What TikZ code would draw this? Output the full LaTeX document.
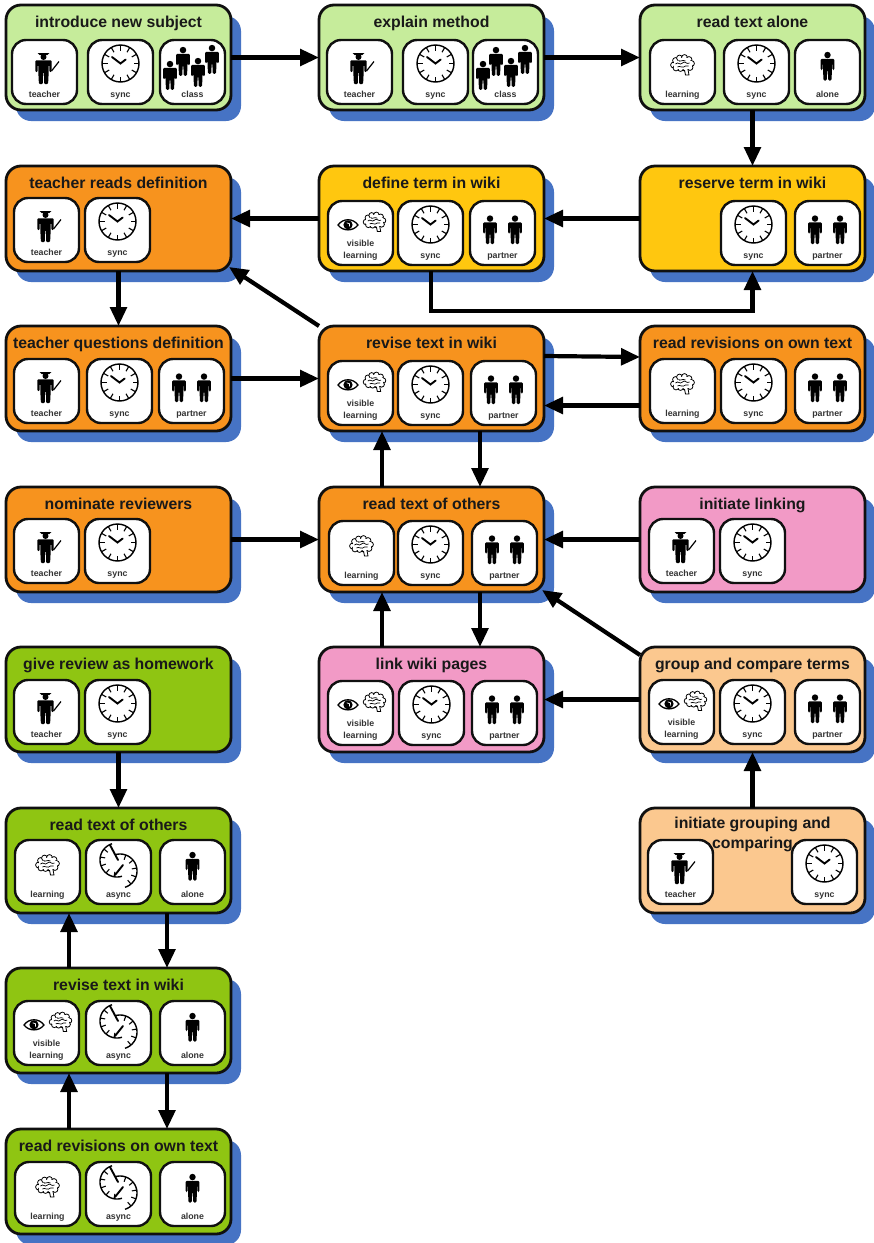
\documentclass[tikz,border=0pt]{standalone}
\usepackage{fontspec}
\setmainfont{Liberation Sans}
\usetikzlibrary{arrows.meta,calc}
\definecolor{cLight}{HTML}{C6EC9B}
\definecolor{cOrange}{HTML}{F7931E}
\definecolor{cYellow}{HTML}{FFC70F}
\definecolor{cPink}{HTML}{F29AC6}
\definecolor{cPeach}{HTML}{FBC88F}
\definecolor{cGreen}{HTML}{8FC512}
\definecolor{cShadow}{HTML}{4673C4}
\definecolor{cInk}{HTML}{101010}
\tikzset{
  x=1pt,y=-1pt,
  actbox/.style={draw=cInk,line width=2.8pt,rounded corners=15pt,minimum width=225pt,minimum height=105pt,inner sep=0pt,outer sep=0pt,anchor=north west},
  shadowbox/.style={fill=cShadow,rounded corners=15pt,minimum width=225pt,minimum height=105pt,inner sep=0pt,outer sep=0pt,anchor=north west},
  titletext/.style={font=\bfseries\fontsize{15.8}{20}\selectfont,text=black!90,inner sep=0pt,align=center},
  titleline/.style={titletext,text height=11pt,text depth=3.2pt},
  tilebox/.style={draw=cInk,fill=white,line width=2.4pt,rounded corners=14pt,minimum width=65pt,minimum height=64pt,inner sep=0pt,outer sep=0pt,anchor=north west},
  tilelabel/.style={font=\bfseries\fontsize{8.8}{12}\selectfont,text=black!80,inner sep=0pt,align=center},
  tilelabelline/.style={tilelabel,text height=6.5pt,text depth=2pt},
  arr/.style={draw=black,line width=4.2pt,-{Triangle[length=19pt,width=16.5pt]}},
}
\newcommand{\personshape}{%
  \fill[black] (0,3.2) circle[radius=3.4];
  \fill[black,rounded corners=1.2pt] (-7.2,7.2) -- (7.2,7.2) -- (7.2,19) -- (5.2,19) -- (5.2,12) -- (4.7,12) -- (4.7,19) -- (4.2,30) -- (.7,30) -- (.4,19) -- (-.4,19) -- (-.7,30) -- (-4.2,30) -- (-4.7,19) -- (-4.7,12) -- (-5.2,12) -- (-5.2,19) -- (-7.2,19) -- cycle;
}
\newcommand{\teachershape}{%
  \fill[black] (-5.8,1.2) -- (5.8,1.2) -- (3.6,3.2) -- (-3.6,3.2) -- cycle;
  \fill[black] (0,5) circle[radius=3];
  \fill[black,rounded corners=1pt] (-8.2,8.4) -- (8.2,8.4) -- (8.2,20) -- (5.8,20) -- (5.8,13) -- (5.2,13) -- (5.2,20) -- (4.6,32) -- (.7,32) -- (.4,20) -- (-.4,20) -- (-.7,32) -- (-4.6,32) -- (-5.2,20) -- (-5.2,13) -- (-5.8,13) -- (-5.8,20) -- (-8.2,20) -- cycle;
  \draw[black,line width=1.2pt] (8,19) -- (15.5,9.5);
}
\newcommand{\clockshape}{%
  \draw[black,line width=1.4pt] (0,0) circle[radius=18.5];
  \foreach \a in {0,30,...,330} {\draw[black,line width=1.1pt] (\a:18.5) -- (\a:13);}
  \draw[black,line width=1.9pt,line cap=round] (-8.5,-6.5) -- (0,0) -- (5.2,-4);
}
\newcommand{\asyncshape}{%
  \begin{scope}[shift={(-1.5,-4)}]
    \draw[black,line width=1.4pt] plot[domain=73:253,samples=37] (\x:17);
    \foreach \a in {100,130,160,190,220} {\draw[black,line width=1.1pt] (\a:17) -- (\a:12);}
    \draw[black,line width=1.9pt,line cap=round] (-7,-15) -- (1,0);
  \end{scope}
  \begin{scope}[shift={(1.5,7)}]
    \draw[black,line width=1.4pt] plot[domain=-107:73,samples=37] (\x:17);
    \foreach \a in {-70,-40,-10,20,50} {\draw[black,line width=1.1pt] (\a:17) -- (\a:12);}
    \draw[black,line width=1.9pt,line cap=round] (-5,4) -- (3,-6);
  \end{scope}
}
\newcommand{\brainshape}{%
  \foreach \p/\r in {-9/0,-7/-4.5,-3/-7,2/-7.5,6.5/-5.5,9/-1.5,7.5/2.5,3/3.5,-2/3.5,-6.5/3}
    {\draw[black,line width=.8pt,fill=white] (\p,\r) circle[radius=2.9];}
  \fill[white] (-9,-4) rectangle (9,2);
  \fill[white] (-5,-7) rectangle (7,4);
  \draw[black,line width=.8pt,fill=white] (2,5) -- (3,10) -- (6.5,10) -- (5.6,5);
  \draw[black,line width=.7pt] (-7,-1) .. controls (-4,-4) and (-3,1) .. (0,-2) .. controls (2,-5) and (4,0) .. (7,-2);
  \draw[black,line width=.7pt] (-4,-5) .. controls (-3,-2) and (0,-6) .. (3,-4);
  \draw[black,line width=.7pt] (-5,2) .. controls (-3,0) and (0,4) .. (3,1) .. controls (4,0) and (5,2) .. (6,1);
}
\newcommand{\eyeshape}{%
  \draw[black,line width=1.3pt,fill=white] (-10,0) .. controls (-5,-7) and (5,-7) .. (10,0) .. controls (5,6.5) and (-5,6.5) .. (-10,0) -- cycle;
  \fill[black] (0,-.2) circle[radius=4.6];
  \draw[white,line width=.7pt] (-1.2,-2.2) .. controls (1.5,-2.6) and (2.6,-.5) .. (1.6,1.6);
}
\newcommand{\tile}[4]{%
  \node[tilebox] (#1) at (#2,#3) {};
  \begin{scope}[shift={(#2,#3)}]\csname tile#4\endcsname{#1}\end{scope}
}
\newcommand{\tilelab}[2]{\node[tilelabelline] (#1-l) at (32.5,55) {#2};}
\newcommand{\tileteacher}[1]{\begin{scope}[shift={(31.5,12)}]\teachershape\end{scope}\tilelab{#1}{teacher}}
\newcommand{\tilesync}[1]{\begin{scope}[shift={(32.5,23.5)}]\clockshape\end{scope}\tilelab{#1}{sync}}
\newcommand{\tileasync}[1]{\begin{scope}[shift={(32.5,24)}]\asyncshape\end{scope}\tilelab{#1}{async}}
\newcommand{\tileclass}[1]{%
  \begin{scope}[shift={(10,21)},scale=.96]\personshape\end{scope}
  \begin{scope}[shift={(23,7)},scale=.96]\personshape\end{scope}
  \begin{scope}[shift={(38,18)},scale=.96]\personshape\end{scope}
  \begin{scope}[shift={(52,5)},scale=.96]\personshape\end{scope}
  \tilelab{#1}{class}}
\newcommand{\tilealone}[1]{\begin{scope}[shift={(32.5,12)},scale=.95]\personshape\end{scope}\tilelab{#1}{alone}}
\newcommand{\tilepartner}[1]{%
  \begin{scope}[shift={(20,14.5)},scale=.95]\personshape\end{scope}
  \begin{scope}[shift={(45,14.5)},scale=.95]\personshape\end{scope}
  \tilelab{#1}{partner}}
\newcommand{\tilelearning}[1]{\begin{scope}[shift={(32.5,25)}]\brainshape\end{scope}\tilelab{#1}{learning}}
\newcommand{\tilevisible}[1]{%
  \begin{scope}[shift={(20,24)}]\eyeshape\end{scope}
  \begin{scope}[shift={(46.5,21)},scale=.95]\brainshape\end{scope}
  \node[tilelabel] (#1-l) at (32.5,49) {visible\\learning};}
\newcommand{\act}[5]{%
  \node[shadowbox] (#1-s) at (#2+10,#3+11) {};
  \node[actbox,fill=#4] (#1) at (#2,#3) {};
  \node[titleline] (#1-t) at (#2+112.5,#3+19) {#5};
}
\begin{document}
\begin{tikzpicture}
\useasboundingbox (0,0) rectangle (874,1243);
\fill[white] (0,0) rectangle (874,1243);
\act{A}{6}{5}{cLight}{introduce new subject}
\tile{A1}{12}{40}{teacher}\tile{A2}{88}{40}{sync}\tile{A3}{160}{40}{class}
\act{B}{319}{5}{cLight}{explain method}
\tile{B1}{327}{40}{teacher}\tile{B2}{403}{40}{sync}\tile{B3}{473}{40}{class}
\act{C}{640}{5}{cLight}{read text alone}
\tile{C1}{650}{40}{learning}\tile{C2}{724}{40}{sync}\tile{C3}{795}{40}{alone}
\act{D}{6}{166}{cOrange}{teacher reads definition}
\tile{D1}{14}{198}{teacher}\tile{D2}{85}{198}{sync}
\act{E}{319}{166}{cYellow}{define term in wiki}
\tile{E1}{328}{201}{visible}\tile{E2}{398}{201}{sync}\tile{E3}{470}{201}{partner}
\act{F}{640}{166}{cYellow}{reserve term in wiki}
\tile{F2}{721}{201}{sync}\tile{F3}{795}{201}{partner}
\act{G}{6}{326}{cOrange}{teacher questions definition}
\tile{G1}{14}{359}{teacher}\tile{G2}{87}{359}{sync}\tile{G3}{159}{359}{partner}
\act{H}{319}{326}{cOrange}{revise text in wiki}
\tile{H1}{328}{361}{visible}\tile{H2}{398}{361}{sync}\tile{H3}{471}{361}{partner}
\act{I}{640}{326}{cOrange}{read revisions on own text}
\tile{I1}{650}{359}{learning}\tile{I2}{721}{359}{sync}\tile{I3}{795}{359}{partner}
\act{J}{6}{487}{cOrange}{nominate reviewers}
\tile{J1}{14}{519}{teacher}\tile{J2}{85}{519}{sync}
\act{K}{319}{487}{cOrange}{read text of others}
\tile{K1}{329}{521}{learning}\tile{K2}{398}{521}{sync}\tile{K3}{472}{521}{partner}
\act{L}{640}{487}{cPink}{initiate linking}
\tile{L1}{649}{519}{teacher}\tile{L2}{720}{519}{sync}
\act{M}{6}{647}{cGreen}{give review as homework}
\tile{M1}{14}{680}{teacher}\tile{M2}{85}{680}{sync}
\act{N}{319}{647}{cPink}{link wiki pages}
\tile{N1}{328}{681}{visible}\tile{N2}{399}{681}{sync}\tile{N3}{472}{681}{partner}
\act{O}{640}{647}{cPeach}{group and compare terms}
\tile{O1}{649}{680}{visible}\tile{O2}{720}{680}{sync}\tile{O3}{795}{680}{partner}
\act{P}{6}{808}{cGreen}{read text of others}
\tile{P1}{15}{840}{learning}\tile{P2}{86}{840}{async}\tile{P3}{160}{840}{alone}
\act{S}{640}{808}{cPeach}{}
\tile{S1}{648}{840}{teacher}\tile{S2}{792}{840}{sync}
\node[titletext] (S-tt) at (752.5,834) {initiate grouping and\\comparing};
\act{Q}{6}{968}{cGreen}{revise text in wiki}
\tile{Q1}{14}{1001}{visible}\tile{Q2}{86}{1001}{async}\tile{Q3}{160}{1001}{alone}
\act{R}{6}{1129}{cGreen}{read revisions on own text}
\tile{R1}{15}{1162}{learning}\tile{R2}{86}{1162}{async}\tile{R3}{160}{1162}{alone}
% connectors
\draw[arr] (A.east) -- (B.west);
\draw[arr] (B.east) -- (C.west);
\draw[arr] (C.south) -- (F.north);
\draw[arr] (F.west) -- (E.east);
\draw[arr] (E.west) -- (D.east);
\draw[arr] (D.south) -- (G.north);
\draw[arr] (G.east) -- (H.west);
\draw[arr] (H.north west) -- ([xshift=-2pt,yshift=4pt]D.south east);
\draw[arr] ([yshift=-30pt]H.north east) -- ([yshift=-31pt]I.north west);
\draw[arr] ([yshift=-27pt]I.west) -- ([yshift=-27pt]H.east);
\draw[arr] ([xshift=161pt]H.south west) -- ([xshift=161pt]K.north west);
\draw[arr] ([xshift=63pt]K.north west) -- ([xshift=63pt]H.south west);
\draw[arr] (J.east) -- (K.west);
\draw[arr] (L.west) -- (K.east);
\draw[arr] ([xshift=161pt]K.south west) -- ([xshift=161pt]N.north west);
\draw[arr] ([xshift=63pt]N.north west) -- ([xshift=63pt]K.south west);
\draw[arr] ([yshift=-8pt]O.north west) -- ([xshift=-2pt,yshift=2pt]K.south east);
\draw[arr] (O.west) -- (N.east);
\draw[arr] (S.north) -- (O.south);
\draw[arr] (M.south) -- (P.north);
\draw[arr] ([xshift=161pt]P.south west) -- ([xshift=161pt]Q.north west);
\draw[arr] ([xshift=63pt]Q.north west) -- ([xshift=63pt]P.south west);
\draw[arr] ([xshift=161pt]Q.south west) -- ([xshift=161pt]R.north west);
\draw[arr] ([xshift=63pt]R.north west) -- ([xshift=63pt]Q.south west);
\draw[arr] ([xshift=112pt]E.south west) -- ++(0,40) -| (F.south);
\end{tikzpicture}
\end{document}
